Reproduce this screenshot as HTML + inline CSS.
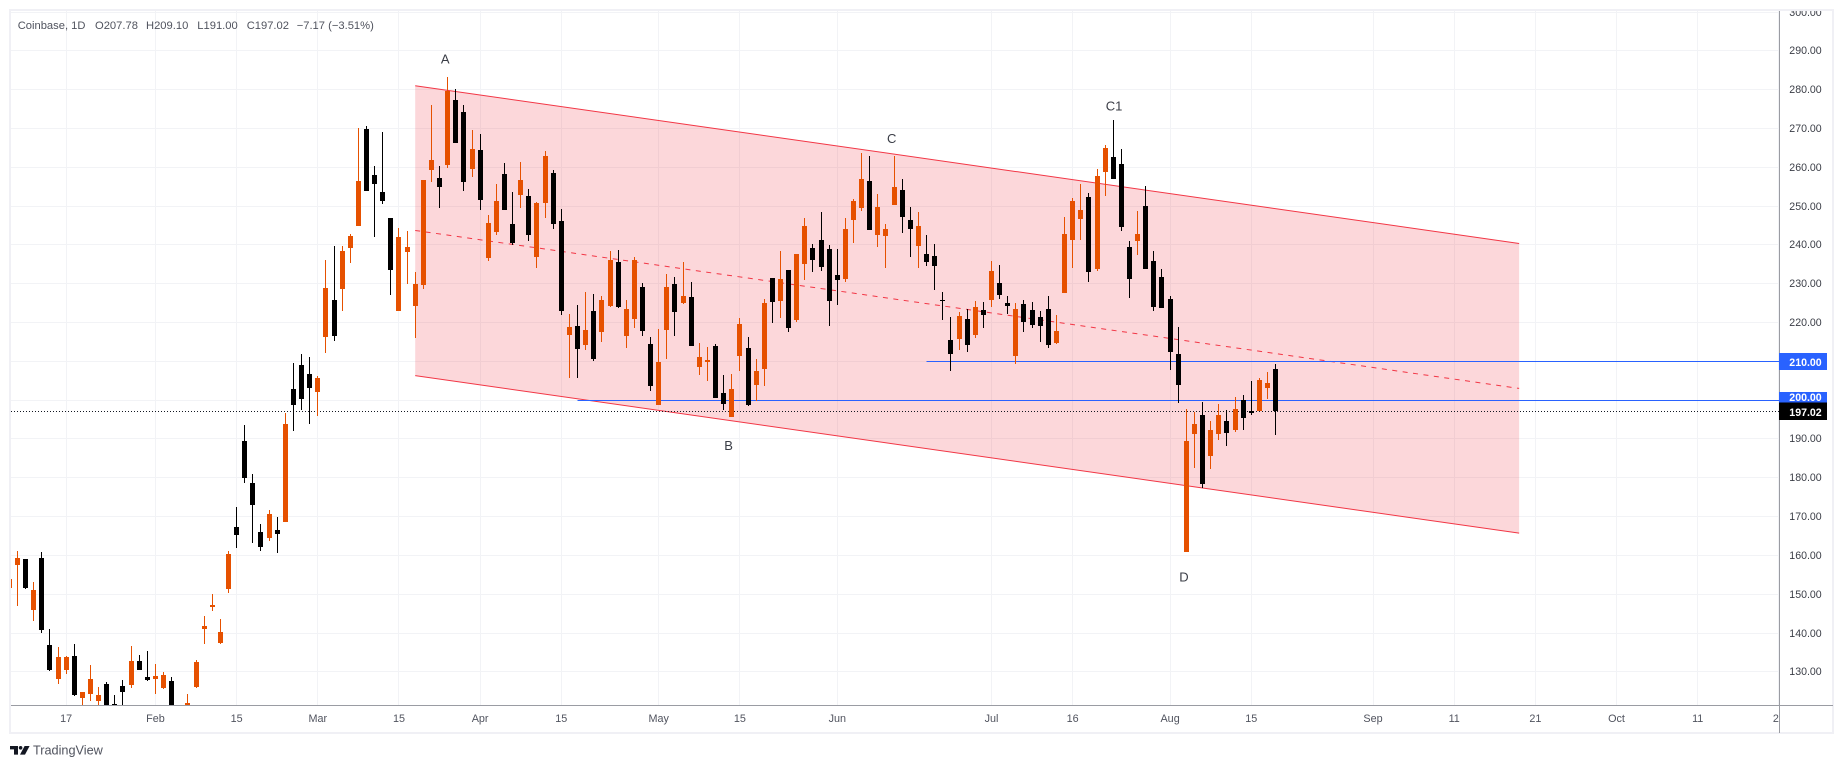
<!DOCTYPE html>
<html lang="en">
<head>
<meta charset="utf-8">
<title>Coinbase 1D chart</title>
<style>
html,body{margin:0;padding:0;background:#fff;width:1843px;height:768px;overflow:hidden}
svg{display:block;font-family:"Liberation Sans",sans-serif}
</style>
</head>
<body>
<svg id="chart" xmlns="http://www.w3.org/2000/svg" width="1843" height="768" viewBox="0 0 1843 768">
  <defs>
    <clipPath id="plot-clip"><rect x="11" y="11" width="1768" height="694"></rect></clipPath>
    <clipPath id="xaxis-clip"><rect x="11" y="706" width="1768" height="26"></rect></clipPath>
    <clipPath id="yaxis-clip"><rect x="1780" y="11" width="52" height="694"></rect></clipPath>
  </defs>
  <rect x="10" y="10" width="1823" height="723" fill="#fff" stroke="#f0f0f5" stroke-width="2"></rect>
  <g id="grid" clip-path="url(#plot-clip)" shape-rendering="crispEdges"></g>
  <g id="drawings" clip-path="url(#plot-clip)"></g>
  <g id="candles" clip-path="url(#plot-clip)" shape-rendering="crispEdges"></g>
  <g id="wave-labels"></g>
  <g id="xaxis"></g>
  <g id="yaxis"></g>
  <g font-size="11.2" fill="#50535e">
    <text x="17.7" y="29">Coinbase, 1D</text>
    <text x="95" y="29">O207.78</text>
    <text x="146" y="29">H209.10</text>
    <text x="197.3" y="29">L191.00</text>
    <text x="246.7" y="29">C197.02</text>
    <text x="296.7" y="29">−7.17 (−3.51%)</text>
  </g>
  <g>
    <polygon fill="#131722" points="10,746 18,746 18,754.6 14,754.6 14,749.4 10,749.4"></polygon>
    <circle fill="#131722" cx="20.6" cy="747.8" r="1.8"></circle>
    <polygon fill="#131722" points="24.6,746 29.6,746 25,754.6 20,754.6"></polygon>
    <text x="33" y="754.6" font-size="12.7" fill="#50535e">TradingView</text>
  </g>
</svg>
<script>
const opens=[151.5,157.4,158.9,145.8,159.2,136.7,128.0,130.3,133.9,123.1,124.1,122.3,126.7,121.5,126.2,126.4,132.6,128.5,128.0,125.7,127.5,118.0,119.0,125.9,140.9,146.5,137.3,151.2,167.1,189.3,178.5,165.9,164.3,166.4,168.4,202.7,208.9,206.6,201.9,216.1,225.6,228.5,239.0,244.7,269.7,257.9,253.5,246.8,222.8,238.0,224.1,229.5,259.2,257.1,260.4,277.2,274.1,259.4,264.3,236.5,243.2,258.1,245.2,252.7,252.5,236.7,250.6,258.4,246.0,216.6,219.0,214.0,222.8,217.4,224.1,235.4,216.4,220.8,229.0,214.3,198.6,217.9,229.8,224.9,226.4,208.4,209.7,213.8,201.7,195.5,211.2,213.3,203.8,207.9,231.3,225.4,233.4,220.5,234.9,239.0,241.1,238.8,232.1,231.1,246.3,249.4,256.3,242.4,242.1,250.1,254.0,246.3,239.6,237.5,237.0,225.7,215.3,215.6,220.8,216.6,223.0,225.7,230.0,224.9,211.2,224.6,223.0,221.3,223.3,214.6,227.5,241.1,246.5,252.2,233.6,258.6,262.5,260.7,239.3,240.9,249.9,235.7,231.6,225.9,211.7,160.7,191.1,196.0,185.5,191.1,194.5,192.2,199.9,197.0,197.0,203.0,207.78];
const highs=[153.7,161.0,158.9,153.0,160.7,140.9,136.2,133.9,137.0,124.6,131.6,125.9,127.2,123.9,127.7,136.5,134.2,135.2,131.8,129.8,128.5,120.0,124.1,132.9,144.2,149.9,143.4,161.0,172.3,193.4,180.8,167.9,171.5,169.7,196.5,209.4,211.7,211.0,206.1,236.0,239.6,239.6,242.7,270.0,270.5,260.2,268.9,246.8,244.2,243.4,232.9,256.6,275.9,260.2,283.1,280.0,275.9,269.5,268.4,247.6,255.5,261.0,253.5,261.2,254.3,250.9,264.0,259.2,249.1,222.0,224.4,227.7,227.2,226.7,238.3,238.5,225.7,236.7,230.0,216.1,218.2,232.4,231.6,235.4,230.3,214.6,213.5,214.3,206.3,206.6,221.0,216.1,210.4,225.9,231.3,238.3,233.4,237.5,246.8,240.1,248.3,239.8,238.8,246.8,251.7,263.5,262.8,253.0,245.2,262.8,256.8,249.6,248.3,242.4,240.1,227.7,221.3,222.6,223.3,225.4,225.1,235.7,234.7,226.7,224.9,225.7,225.1,222.8,226.7,221.8,247.0,252.0,255.5,253.2,259.4,265.6,272.0,264.6,240.9,248.6,255.0,238.3,233.6,226.7,218.7,197.6,196.8,199.4,194.5,198.9,197.3,200.7,201.2,204.8,205.5,207.1,209.10];
const lows=[151.5,146.9,151.2,142.9,139.8,130.0,126.7,129.3,123.6,119.0,122.3,119.5,117.0,119.0,120.0,125.7,130.3,127.5,124.1,125.4,116.0,114.0,118.0,125.7,137.0,145.5,137.0,150.1,161.7,178.5,163.0,161.0,163.5,160.4,168.4,191.9,197.3,193.7,195.8,212.0,215.1,222.8,235.2,244.7,253.7,241.9,250.4,227.0,222.8,229.8,215.9,228.5,256.1,249.4,259.7,266.1,253.7,257.3,248.8,235.7,242.4,248.8,239.8,249.4,240.9,233.9,246.8,244.0,221.8,205.6,205.6,212.8,210.0,214.8,223.8,223.6,213.3,218.4,216.4,202.2,198.6,210.4,216.4,224.6,213.8,206.3,204.8,200.4,197.3,195.5,207.4,198.3,199.6,203.5,219.7,221.0,217.4,220.0,230.8,232.9,233.1,218.9,224.4,230.3,240.3,248.6,243.7,239.3,233.9,250.1,242.9,236.7,233.9,234.4,228.2,220.5,207.4,212.8,212.3,215.9,218.4,223.9,225.9,222.0,209.2,217.4,218.4,214.8,213.3,214.3,227.5,233.9,241.1,230.3,233.1,252.5,256.8,243.4,226.2,237.3,233.6,222.8,223.6,207.6,199.1,160.7,182.4,177.2,182.1,189.6,188.0,191.6,192.2,196.0,197.0,200.1,191.00];
const closes=[153.7,159.2,151.4,150.9,140.6,130.3,133.6,133.6,123.9,124.6,128.0,123.9,118.0,120.5,124.6,132.6,130.3,127.7,128.8,129.0,118.0,116.0,121.8,132.4,141.6,147.0,140.1,160.2,165.1,179.8,172.8,162.0,170.5,165.3,193.7,198.6,200.1,203.0,205.6,228.7,216.4,238.3,242.1,256.3,253.7,255.6,251.2,233.4,241.9,239.3,229.8,256.6,261.7,254.8,279.5,266.1,256.0,264.6,251.4,245.5,251.2,248.8,240.3,256.6,242.4,250.6,262.8,245.2,222.8,218.7,213.0,217.9,210.4,225.7,236.0,223.8,223.3,236.0,217.7,203.5,209.7,229.0,222.6,226.7,213.8,211.0,210.2,200.4,198.8,202.7,219.5,198.6,207.4,224.9,225.1,231.1,218.4,237.5,244.7,236.0,234.1,225.4,230.8,243.9,251.2,256.8,243.7,249.6,243.9,254.8,247.0,243.9,244.7,235.4,234.4,225.4,211.7,221.5,214.0,223.9,221.8,233.1,226.9,224.1,223.3,220.0,219.2,218.9,214.0,217.7,242.7,251.2,248.9,232.9,257.6,264.8,256.8,244.5,231.0,242.7,233.6,223.9,223.6,212.3,203.8,189.3,193.7,178.2,192.2,196.0,191.4,197.6,195.3,196.5,205.0,204.3,197.02];

const priceTicks=[300,290,280,270,260,250,240,230,220,210,200,190,180,170,160,150,140,130];
const timeTickBars=[7,18,28,38,48,58,68,80,90,102,121,131,143,153,168,178,188,198,208,218];
const timeTickLabels=["17","Feb","15","Mar","15","Apr","15","May","15","Jun","Jul","16","Aug","15","Sep","11","21","Oct","11","21"];

const channelBars=[50,186];
const channelTop=[280.9,240.25];
const channelMid=[243.6,202.9];
const channelBottom=[206.2,165.6];

const levelPrices=[210,200];
const levelStartBars=[113,70];

const lastPrice=197.02;

const waveLabels=["A","B","C","C1","D"];
const waveBars=[53.7,88.6,108.7,136.1,144.7];
const wavePrices=[287.8,188.3,267.3,275.7,154.3];

const NS='http://www.w3.org/2000/svg';
const PLOT_LEFT=11,PLOT_RIGHT=1779,PLOT_TOP=11,PLOT_BOTTOM=705;
function xScale(bar){return 9.34+8.1172*bar;}
function yScale(price){return 50.38+(290-price)*3.881;}
function make(tag,parent){const e=document.createElementNS(NS,tag);parent.appendChild(e);return e;}
function set(e,props){for(const k in props)e.setAttribute(k,props[k]);return e;}

const grid=document.getElementById('grid');
const drawings=document.getElementById('drawings');
const candles=document.getElementById('candles');
const waveGroup=document.getElementById('wave-labels');
const xaxis=document.getElementById('xaxis');
const yaxis=document.getElementById('yaxis');
const GRID_COLOR='#f2f3f6',AXIS_COLOR='#9a9ca3';

priceTicks.forEach(function(p){
  const line=make('rect',grid);
  
  
  set(line,{x:PLOT_LEFT,y:Math.round(yScale(p)),width:PLOT_RIGHT-PLOT_LEFT,height:1,fill:GRID_COLOR});
});
timeTickBars.forEach(function(b){
  const line=make('rect',grid);
  
  
  set(line,{x:Math.floor(xScale(b)),y:PLOT_TOP,width:1,height:PLOT_BOTTOM-PLOT_TOP,fill:GRID_COLOR});
});

const channelFill=make('polygon',drawings);


set(channelFill,{
  points:[[channelBars[0],channelTop[0]],[channelBars[1],channelTop[1]],[channelBars[1],channelBottom[1]],[channelBars[0],channelBottom[0]]]
    .map(function(q){return xScale(q[0])+','+yScale(q[1]);}).join(' '),
  fill:'rgba(242,54,69,0.2)'
});
[[channelTop,'channel-top-line',''],[channelMid,'channel-mid-line','5 5.5'],[channelBottom,'channel-bottom-line','']].forEach(function(c){
  const line=make('line',drawings);
  
  
  set(line,{x1:xScale(channelBars[0]),y1:yScale(c[0][0]),x2:xScale(channelBars[1]),y2:yScale(c[0][1]),stroke:'#f23645','stroke-width':1});
  if(c[2])line.setAttribute('stroke-dasharray',c[2]);
});
levelPrices.forEach(function(p,i){
  const line=make('rect',drawings);
  
  
  set(line,{x:xScale(levelStartBars[i]),y:Math.round(yScale(p)),width:PLOT_RIGHT-xScale(levelStartBars[i]),height:1,fill:'#2962ff','shape-rendering':'crispEdges'});
});
const priceLine=make('line',drawings);


set(priceLine,{x1:PLOT_LEFT,x2:PLOT_RIGHT,y1:Math.round(yScale(lastPrice))+0.5,y2:Math.round(yScale(lastPrice))+0.5,stroke:'#131722','stroke-width':1,'stroke-dasharray':'1 2'});

opens.forEach(function(o,i){
  const c=closes[i],color=c>=o?'#e65100':'#000000';
  const px=Math.floor(xScale(i));
  const g=make('g',candles);
  
  
  const wick=make('rect',g);
  
  
  const wt=Math.round(yScale(highs[i])),wb=Math.round(yScale(lows[i]));
  set(wick,{x:px,y:wt,width:1,height:Math.max(1,wb-wt),fill:color});
  const body=make('rect',g);
  
  
  const bt=Math.round(yScale(Math.max(o,c))),bb=Math.round(yScale(Math.min(o,c)));
  set(body,{x:px-2,y:bt,width:5,height:Math.max(1,bb-bt),fill:color});
});

waveLabels.forEach(function(t,i){
  const label=make('text',waveGroup);
  
  
  set(label,{x:xScale(waveBars[i]),y:yScale(wavePrices[i])+4.7,'text-anchor':'middle','font-size':13,fill:'#3a3d46'});
  label.textContent=t;
});

const xBase=make('rect',xaxis);


set(xBase,{x:11,y:705,width:1822,height:1,fill:AXIS_COLOR,'shape-rendering':'crispEdges'});
const xLabels=make('g',xaxis);


xLabels.setAttribute('clip-path','url(#xaxis-clip)');
timeTickBars.forEach(function(b,i){
  const t=make('text',xLabels);
  
  
  set(t,{x:xScale(b),y:722,'text-anchor':'middle','font-size':10.8,fill:'#50535e'});
  t.textContent=timeTickLabels[i];
});

const yBase=make('rect',yaxis);


set(yBase,{x:1779,y:11,width:1,height:722,fill:AXIS_COLOR,'shape-rendering':'crispEdges'});
const yLabels=make('g',yaxis);


yLabels.setAttribute('clip-path','url(#yaxis-clip)');
priceTicks.forEach(function(p){
  if(levelPrices.indexOf(p)>=0)return;
  const t=make('text',yLabels);
  
  
  set(t,{x:1789.3,y:Math.round(yScale(p))+4,'font-size':10.6,fill:'#3a3d46'});
  t.textContent=p.toFixed(2);
});
levelPrices.forEach(function(p){
  const yy=Math.round(yScale(p));
  const box=make('rect',yaxis);
  
  
  set(box,{x:1779,y:yy-8,width:48,height:17,fill:'#2962ff','shape-rendering':'crispEdges'});
  const t=make('text',yaxis);
  
  
  set(t,{x:1789.3,y:yy+(p===200?1.2:5),'font-size':10.6,'font-weight':'bold',fill:'#ffffff'});
  t.textContent=p.toFixed(2);
});
const lastY=Math.round(yScale(lastPrice));
const lastBox=make('rect',yaxis);


set(lastBox,{x:1779,y:lastY-8.5,width:48,height:17.5,fill:'#000000','shape-rendering':'crispEdges'});
const lastText=make('text',yaxis);


set(lastText,{x:1789.3,y:lastY+5,'font-size':10.6,'font-weight':'bold',fill:'#ffffff'});
lastText.textContent=lastPrice.toFixed(2);
</script>
</body>
</html>
